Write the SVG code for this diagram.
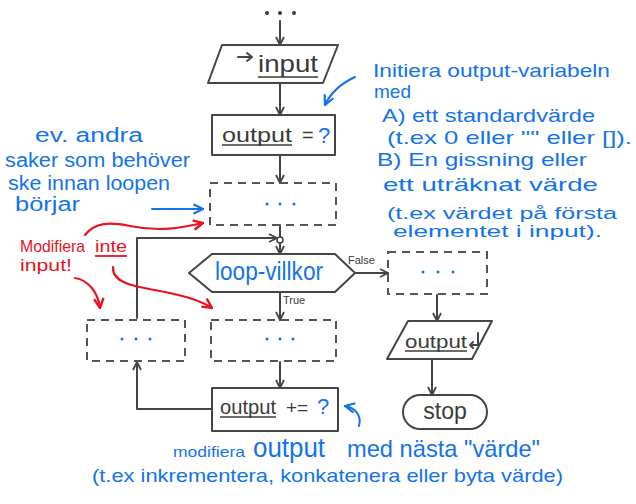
<svg xmlns="http://www.w3.org/2000/svg" width="636" height="504" viewBox="0 0 636 504">
<style>
.ln{stroke:#454545;stroke-width:2;fill:none;stroke-linecap:round;stroke-linejoin:round}
.dash{stroke:#555;stroke-width:2;fill:none;stroke-dasharray:8 6}
.t{font-family:"Liberation Sans",Arial,sans-serif}
.dk{fill:#3a3a3a}
.bl{fill:#1273eb}
.rd{fill:#e8131f}
.ul{stroke:#3a3a3a;stroke-width:1.6}
.bla{stroke:#1273eb;stroke-width:2;fill:none;stroke-linecap:round}
.rda{stroke:#e8131f;stroke-width:2.2;fill:none;stroke-linecap:round}
.dotb{fill:#1273eb}
</style>
<defs>
<marker id="ah" viewBox="0 0 10 10" refX="9" refY="5" markerWidth="10" markerHeight="10" markerUnits="userSpaceOnUse" orient="auto"><path d="M1,1 L9,5 L1,9" fill="none" stroke="#454545" stroke-width="1.8"/></marker>
<marker id="ahb" viewBox="0 0 10 10" refX="9" refY="5" markerWidth="12" markerHeight="12" markerUnits="userSpaceOnUse" orient="auto"><path d="M1,1 L9,5 L1,9" fill="none" stroke="#1273eb" stroke-width="1.8"/></marker>
<marker id="ahr" viewBox="0 0 10 10" refX="9" refY="5" markerWidth="12" markerHeight="12" markerUnits="userSpaceOnUse" orient="auto"><path d="M1,1 L9,5 L1,9" fill="none" stroke="#e8131f" stroke-width="2"/></marker>
</defs>
<rect width="636" height="504" fill="#fff"/>

<g id="start">
<circle cx="267" cy="13" r="2" fill="#3a3a3a"/><circle cx="280" cy="13" r="2" fill="#3a3a3a"/><circle cx="294" cy="13" r="2" fill="#3a3a3a"/>
</g>

<g id="connectors">
<path class="ln" d="M280,21 V45" marker-end="url(#ah)"/>
<path class="ln" d="M280,84 V115" marker-end="url(#ah)"/>
<path class="ln" d="M280,156 V183" marker-end="url(#ah)"/>
<path class="ln" d="M280,225 V237"/>
<circle cx="280" cy="240" r="3" fill="none" stroke="#454545" stroke-width="1.6"/>
<path class="ln" d="M280,243 V254" marker-end="url(#ah)"/>
<path class="ln" d="M137,318 V238 H277" marker-end="url(#ah)"/>
<path class="ln" d="M355,273 H388" marker-end="url(#ah)"/>
<path class="ln" d="M437,295 V321" marker-end="url(#ah)"/>
<path class="ln" d="M432,360 V395" marker-end="url(#ah)"/>
<path class="ln" d="M280,293 V320" marker-end="url(#ah)"/>
<path class="ln" d="M280,362 V388" marker-end="url(#ah)"/>
<path class="ln" d="M212,409 H137 V362" marker-end="url(#ah)"/>
<text class="t dk" x="283" y="304" font-size="11">True</text>
<text class="t dk" x="348" y="264" font-size="11">False</text>
</g>

<g id="input">
<polygon class="ln" points="222,45 338,45 323,83 208,83"/>
<path class="ln" d="M238,57 H252 M247,53 L252,57 L247,61" stroke-width="1.6"/>
<text class="t dk" x="258" y="72" font-size="24" textLength="60" lengthAdjust="spacingAndGlyphs">input</text>
<path class="ul" d="M258,77 H318"/>
</g>

<g id="init">
<rect class="ln" x="212" y="115" width="123" height="40"/>
<text class="t dk" x="222" y="142" font-size="21" textLength="70" lengthAdjust="spacingAndGlyphs">output</text>
<path class="ul" d="M222,145 H292"/>
<text class="t dk" x="302" y="142" font-size="20">=</text>
<text class="t bl" x="318" y="143" font-size="22">?</text>
</g>

<g id="pre">
<rect class="dash" x="210" y="183" width="126" height="42"/>
<circle class="dotb" cx="267" cy="204" r="1.5"/><circle class="dotb" cx="280" cy="204" r="1.5"/><circle class="dotb" cx="294" cy="204" r="1.5"/>
</g>

<g id="loop">
<polygon class="ln" points="189,273 212,254 335,254 355,273 335,292 212,292"/>
<text class="t bl" x="215" y="280" font-size="25" textLength="108" lengthAdjust="spacingAndGlyphs">loop-villkor</text>
</g>

<g id="after">
<rect class="dash" x="388" y="252" width="99" height="42"/>
<circle class="dotb" cx="423" cy="272" r="1.5"/><circle class="dotb" cx="438" cy="272" r="1.5"/><circle class="dotb" cx="453" cy="272" r="1.5"/>
</g>

<g id="outputnode">
<polygon class="ln" points="408,321 492,321 472,359 387,359"/>
<text class="t dk" x="405" y="348" font-size="19" textLength="62" lengthAdjust="spacingAndGlyphs">output</text>
<path class="ul" d="M405,351 H467"/>
<path class="ln" d="M478,333 V345 H470 M473,342 L470,345 L473,348" stroke-width="1.4"/>
</g>

<g id="stop">
<rect class="ln" x="403" y="395" width="84" height="34" rx="17"/>
<text class="t dk" x="445" y="419" font-size="23" text-anchor="middle">stop</text>
</g>

<g id="leftbox">
<rect class="dash" x="87" y="320" width="98" height="41"/>
<circle class="dotb" cx="122" cy="339" r="1.5"/><circle class="dotb" cx="136" cy="339" r="1.5"/><circle class="dotb" cx="150" cy="339" r="1.5"/>
</g>

<g id="body">
<rect class="dash" x="211" y="320" width="125" height="41"/>
<circle class="dotb" cx="267" cy="339" r="1.5"/><circle class="dotb" cx="280" cy="339" r="1.5"/><circle class="dotb" cx="293" cy="339" r="1.5"/>
</g>

<g id="update">
<rect class="ln" x="212" y="388" width="126" height="43"/>
<text class="t dk" x="220" y="414" font-size="20" textLength="56" lengthAdjust="spacingAndGlyphs">output</text>
<path class="ul" d="M220,417 H276"/>
<text class="t dk" x="286" y="414" font-size="19">+=</text>
<text class="t bl" x="317" y="414" font-size="22">?</text>
</g>

<g id="note-init">
<path class="bla" d="M355,77 C340,84 330,94 325,105" marker-end="url(#ahb)"/>
<g class="t bl" font-size="19">
<text x="373" y="77" textLength="237" lengthAdjust="spacingAndGlyphs">Initiera output-variabeln</text>
<text x="374" y="98">med</text>
<text x="382" y="122" textLength="213" lengthAdjust="spacingAndGlyphs">A) ett standardvärde</text>
<text x="387" y="144" textLength="245" lengthAdjust="spacingAndGlyphs">(t.ex 0 eller "" eller []).</text>
<text x="377" y="166" textLength="210" lengthAdjust="spacingAndGlyphs">B) En gissning eller</text>
<text x="383" y="191" textLength="215" lengthAdjust="spacingAndGlyphs">ett uträknat värde</text>
<text x="387" y="219" font-size="16" textLength="230" lengthAdjust="spacingAndGlyphs">(t.ex värdet på första</text>
<text x="393" y="237" font-size="16" textLength="209" lengthAdjust="spacingAndGlyphs">elementet i input).</text>
</g>
</g>

<g id="note-pre">
<path class="bla" d="M152,209 H203" marker-end="url(#ahb)"/>
<g class="t bl" font-size="20">
<text x="35" y="142" textLength="108" lengthAdjust="spacingAndGlyphs">ev. andra</text>
<text x="5" y="167" textLength="185" lengthAdjust="spacingAndGlyphs">saker som behöver</text>
<text x="8" y="190" textLength="162" lengthAdjust="spacingAndGlyphs">ske innan loopen</text>
<text x="15" y="211" textLength="65" lengthAdjust="spacingAndGlyphs">börjar</text>
</g>
</g>

<g id="note-input">
<path class="rda" d="M85,235 C95,222 110,222 130,226 C160,232 180,228 203,223" marker-end="url(#ahr)"/>
<path class="rda" d="M113,267 C112,285 140,287 165,292 C185,296 200,300 212,308" marker-end="url(#ahr)"/>
<path class="rda" d="M75,278 C88,280 98,292 100,308" marker-end="url(#ahr)"/>
<g class="t rd" font-size="17">
<text x="20" y="252" textLength="65" lengthAdjust="spacingAndGlyphs">Modifiera</text>
<text x="95" y="252" textLength="32" lengthAdjust="spacingAndGlyphs">inte</text>
<text x="20" y="271" textLength="52" lengthAdjust="spacingAndGlyphs">input!</text>
</g>
<path d="M95,256 H127" stroke="#e8131f" stroke-width="1.8"/>
</g>

<g id="note-update">
<path class="bla" d="M359,426 C362,415 355,408 345,406" marker-end="url(#ahb)"/>
<g class="t bl">
<text x="173" y="457" font-size="15" textLength="72" lengthAdjust="spacingAndGlyphs">modifiera</text>
<text x="253" y="457" font-size="27" textLength="72" lengthAdjust="spacingAndGlyphs">output</text>
<text x="347" y="457" font-size="24" textLength="193" lengthAdjust="spacingAndGlyphs">med nästa "värde"</text>
<text x="92" y="482" font-size="19" textLength="471" lengthAdjust="spacingAndGlyphs">(t.ex inkrementera, konkatenera eller byta värde)</text>
</g>
</g>
</svg>
